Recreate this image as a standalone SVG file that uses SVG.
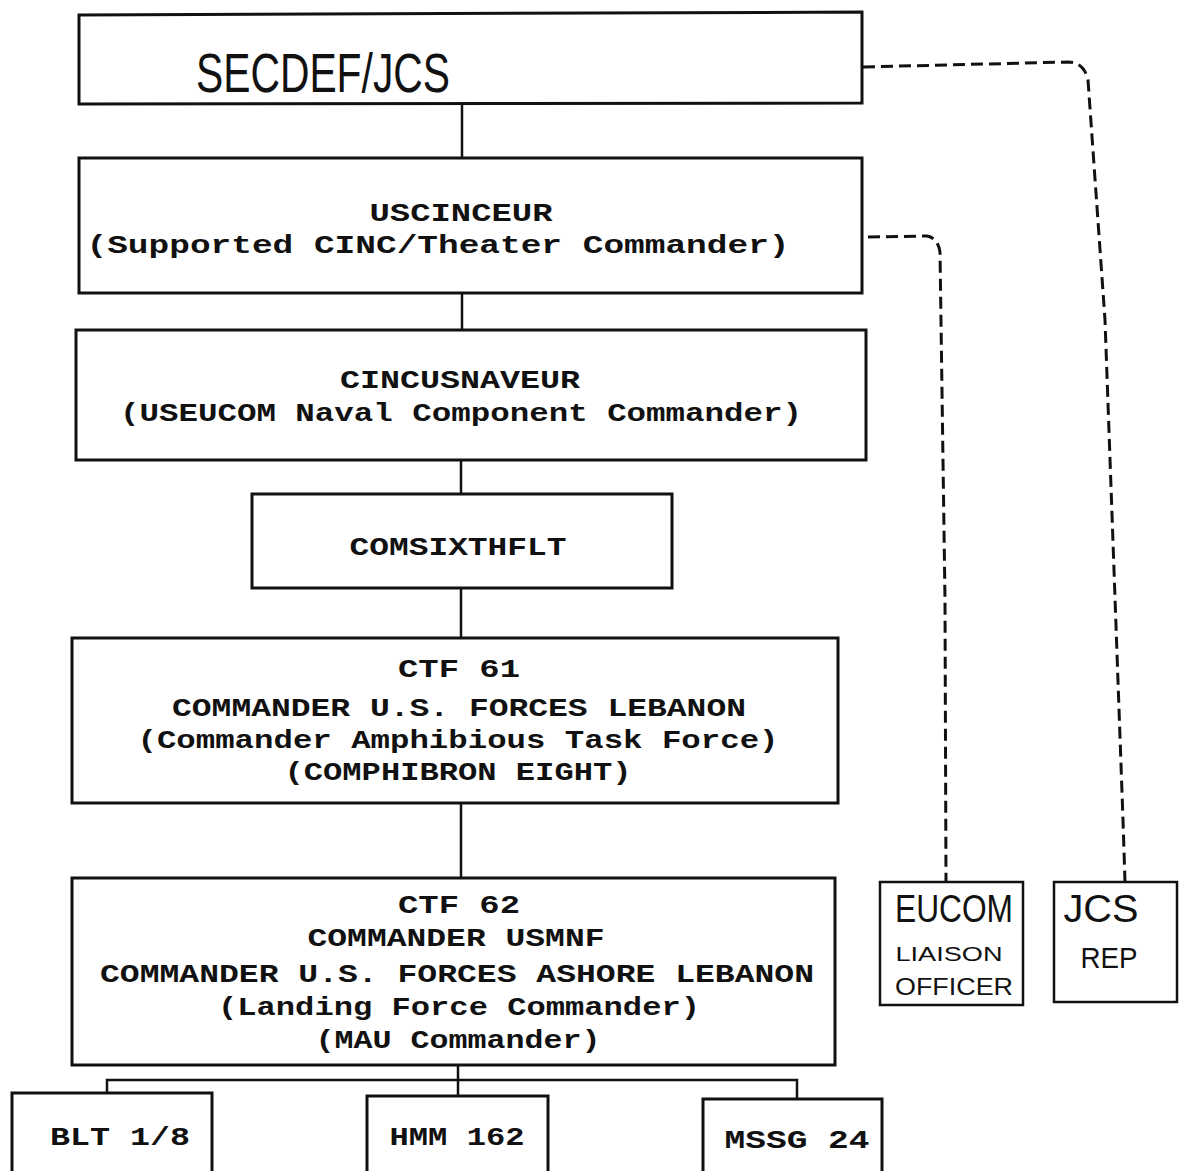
<svg xmlns="http://www.w3.org/2000/svg" width="1184" height="1171" viewBox="0 0 1184 1171">
<style>
.box{fill:#fff;stroke:#111;stroke-width:3}
.sbox{fill:#fff;stroke:#111;stroke-width:2.5}
.t{font-family:"Liberation Mono","DejaVu Sans Mono",monospace;font-weight:bold;font-size:26px;fill:#111;text-anchor:middle}
.h{font-family:"Liberation Sans","DejaVu Sans",sans-serif;fill:#111;text-anchor:middle}
.ln{stroke:#111;stroke-width:2.5;fill:none}
.dash{stroke:#111;stroke-width:3;fill:none;stroke-dasharray:12 6}
</style>
<rect width="1184" height="1171" fill="#fff"/>
<g id="connectors">
<line class="ln" x1="462" y1="103" x2="462" y2="158"/>
<line class="ln" x1="462" y1="293" x2="462" y2="330"/>
<line class="ln" x1="461" y1="460" x2="461" y2="494"/>
<line class="ln" x1="461" y1="588" x2="461" y2="638"/>
<line class="ln" x1="461" y1="803" x2="461" y2="878"/>
<path class="ln" d="M458 1065 V1080 M107 1093 V1080 H797 V1099 M458 1080 V1096"/>
<path class="dash" d="M863 67 L1068 62 Q1084 62 1088 80 L1105 320 L1123 820 L1125 882"/>
<path class="dash" d="M868 237 L927 236 Q938 238 940 252 L945 600 L946 882"/>
</g>
<g id="secdef">
<path class="box" d="M79 15 L862 12 L862 103 L79 104 Z"/>
<text class="h" x="323" y="92" font-size="56" textLength="254" lengthAdjust="spacingAndGlyphs">SECDEF/JCS</text>
</g>
<g id="uscinceur">
<rect class="box" x="79" y="158" width="783" height="135"/>
<text class="t" x="461" y="221" textLength="183" lengthAdjust="spacingAndGlyphs">USCINCEUR</text>
<text class="t" x="438" y="253" textLength="703" lengthAdjust="spacingAndGlyphs">(Supported CINC/Theater Commander)</text>
</g>
<g id="cincusnaveur">
<rect class="box" x="76" y="330" width="790" height="130"/>
<text class="t" x="460" y="388" textLength="240" lengthAdjust="spacingAndGlyphs">CINCUSNAVEUR</text>
<text class="t" x="461" y="421" textLength="682" lengthAdjust="spacingAndGlyphs">(USEUCOM Naval Component Commander)</text>
</g>
<g id="comsixthflt">
<rect class="box" x="252" y="494" width="420" height="94"/>
<text class="t" x="458" y="555" textLength="217" lengthAdjust="spacingAndGlyphs">COMSIXTHFLT</text>
</g>
<g id="ctf61">
<rect class="box" x="72" y="638" width="766" height="165"/>
<text class="t" x="459" y="677" textLength="122" lengthAdjust="spacingAndGlyphs">CTF 61</text>
<text class="t" x="459" y="716" textLength="574" lengthAdjust="spacingAndGlyphs">COMMANDER U.S. FORCES LEBANON</text>
<text class="t" x="458" y="748" textLength="641" lengthAdjust="spacingAndGlyphs">(Commander Amphibious Task Force)</text>
<text class="t" x="458" y="780" textLength="347" lengthAdjust="spacingAndGlyphs">(COMPHIBRON EIGHT)</text>
</g>
<g id="ctf62">
<rect class="box" x="72" y="878" width="763" height="187"/>
<text class="t" x="459" y="913" textLength="122" lengthAdjust="spacingAndGlyphs">CTF 62</text>
<text class="t" x="456" y="946" textLength="297" lengthAdjust="spacingAndGlyphs">COMMANDER USMNF</text>
<text class="t" x="457" y="982" textLength="714" lengthAdjust="spacingAndGlyphs">COMMANDER U.S. FORCES ASHORE LEBANON</text>
<text class="t" x="459" y="1015" textLength="482" lengthAdjust="spacingAndGlyphs">(Landing Force Commander)</text>
<text class="t" x="458" y="1048" textLength="285" lengthAdjust="spacingAndGlyphs">(MAU Commander)</text>
</g>
<g id="blt">
<rect class="box" x="12" y="1093" width="200" height="90"/>
<text class="t" x="120" y="1145" textLength="140" lengthAdjust="spacingAndGlyphs">BLT 1/8</text>
</g>
<g id="hmm">
<rect class="box" x="367" y="1096" width="181" height="90"/>
<text class="t" x="457" y="1145" textLength="135" lengthAdjust="spacingAndGlyphs">HMM 162</text>
</g>
<g id="mssg">
<rect class="box" x="703" y="1099" width="179" height="90"/>
<text class="t" x="797" y="1148" textLength="145" lengthAdjust="spacingAndGlyphs">MSSG 24</text>
</g>
<g id="eucom">
<rect class="sbox" x="880" y="882" width="143" height="123"/>
<text class="h" x="954" y="922" font-size="38" textLength="118" lengthAdjust="spacingAndGlyphs">EUCOM</text>
<text class="h" x="949" y="961" font-size="21" textLength="107" lengthAdjust="spacingAndGlyphs">LIAISON</text>
<text class="h" x="954" y="995" font-size="24" textLength="118" lengthAdjust="spacingAndGlyphs">OFFICER</text>
</g>
<g id="jcsrep">
<rect class="sbox" x="1054" y="882" width="123" height="120"/>
<text class="h" x="1101" y="922" font-size="38" textLength="75" lengthAdjust="spacingAndGlyphs">JCS</text>
<text class="h" x="1109" y="968" font-size="29" textLength="57" lengthAdjust="spacingAndGlyphs">REP</text>
</g>
</svg>
